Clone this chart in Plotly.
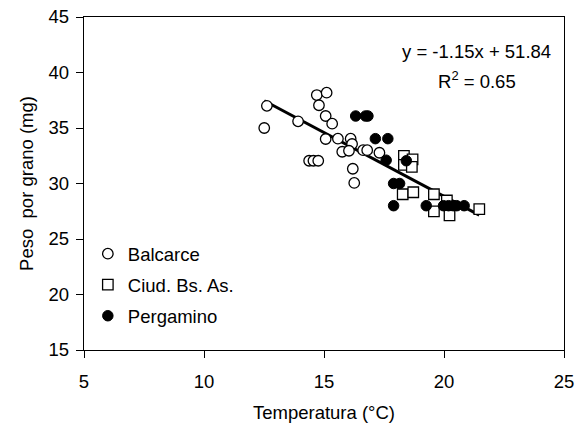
import plotly.graph_objects as go

# Balcarce (open circles)
balc_x = [12.62, 12.51, 13.92, 14.70, 15.11, 14.79, 15.07, 15.34, 15.07, 15.58, 16.11, 16.17,
          15.76, 16.04, 16.63, 16.80, 17.31, 14.38, 14.56, 14.76, 16.20, 16.26]
balc_y = [37.0, 35.0, 35.6, 37.97, 38.18, 37.05, 36.08, 35.39, 34.01, 34.04, 34.04, 33.56,
          32.86, 32.95, 33.0, 33.0, 32.77, 32.05, 32.05, 32.05, 31.33, 30.05]

# Ciudad de Buenos Aires (open squares)
ciud_x = [18.33, 18.33, 18.69, 18.66, 18.28, 18.72, 19.58, 19.58, 20.12, 20.23, 21.47]
ciud_y = [32.48, 31.67, 32.17, 31.5, 29.03, 29.21, 29.03, 27.48, 28.47, 27.12, 27.70]

# Pergamino (filled circles)
perg_x = [16.32, 16.73, 16.83, 17.14, 17.66, 17.59, 18.43, 17.90, 18.15, 17.90, 19.26,
          19.98, 20.19, 20.39, 20.53, 20.84]
perg_y = [36.08, 36.08, 36.08, 34.04, 34.04, 32.10, 32.05, 30.0, 30.0, 28.0, 28.0,
          28.0, 28.0, 28.0, 28.0, 28.0]

# Regression
slope = -1.15
intercept = 51.84
r2 = 0.65

x_ticks = [5, 10, 15, 20, 25]
y_ticks = [15, 20, 25, 30, 35, 40, 45]

FONT = "Liberation Sans, Arial, sans-serif"
FS = 18.5

all_x = balc_x + ciud_x + perg_x
line_x = [min(all_x), max(all_x)]
line_y = [slope * v + intercept for v in line_x]

fig = go.Figure()
fig.add_trace(go.Scatter(x=line_x, y=line_y, mode="lines", showlegend=False,
                         line=dict(color="black", width=3)))
fig.add_trace(go.Scatter(x=balc_x, y=balc_y, mode="markers", name="Balcarce", legendgroup="a",
                         marker=dict(symbol="circle", size=10.5, color="white",
                                     line=dict(color="black", width=1.3))))
fig.add_trace(go.Scatter(x=ciud_x, y=ciud_y, mode="markers", name="Ciud. Bs. As.", legendgroup="b",
                         marker=dict(symbol="square", size=10.5, color="white",
                                     line=dict(color="black", width=1.3))))
fig.add_trace(go.Scatter(x=perg_x, y=perg_y, mode="markers", name="Pergamino", legendgroup="c",
                         marker=dict(symbol="circle", size=10.5, color="black",
                                     line=dict(color="black", width=1))))

fig.add_annotation(xref="paper", yref="paper", x=(476 - 84) / 480, y=(350 - 51) / 333,
                   text=f"y = {slope:.2f}x + {intercept:.2f}", showarrow=False,
                   xanchor="center", yanchor="middle", font=dict(family=FONT, size=FS, color="black"))
fig.add_annotation(xref="paper", yref="paper", x=(477 - 84) / 480, y=(350 - 80) / 333,
                   text=f"R<sup>2</sup> = {r2:.2f}", showarrow=False,
                   xanchor="center", yanchor="middle", font=dict(family=FONT, size=FS, color="black"))

axis_common = dict(showgrid=False, zeroline=False, showline=True, linecolor="black", linewidth=1.3,
                   mirror=True, ticks="outside", ticklen=7, tickwidth=1.3, tickcolor="black",
                   automargin=False,
                   tickfont=dict(family=FONT, size=FS, color="black"))

fig.update_xaxes(range=[5, 25], tickvals=x_ticks, ticklabelstandoff=8, **axis_common,
                 title=dict(text="Temperatura (°C)", font=dict(family=FONT, size=FS, color="black"),
                            standoff=14))
fig.update_yaxes(range=[15, 45], tickvals=y_ticks, ticklabelstandoff=3, **axis_common,
                 title=dict(text="Peso\u00a0\u00a0por grano (mg)", font=dict(family=FONT, size=FS, color="black"),
                            standoff=10))

fig.update_layout(
    width=577, height=423,
    margin=dict(l=84, r=13, t=17, b=73),
    paper_bgcolor="white", plot_bgcolor="white",
    font=dict(family=FONT, size=FS, color="black"),
    legend=dict(x=0.008, y=0.345, xanchor="left", yanchor="top", bgcolor="rgba(0,0,0,0)",
                traceorder="grouped", tracegroupgap=4, itemsizing="trace",
                font=dict(family=FONT, size=FS, color="black")),
)

fig.write_html("out.html")
